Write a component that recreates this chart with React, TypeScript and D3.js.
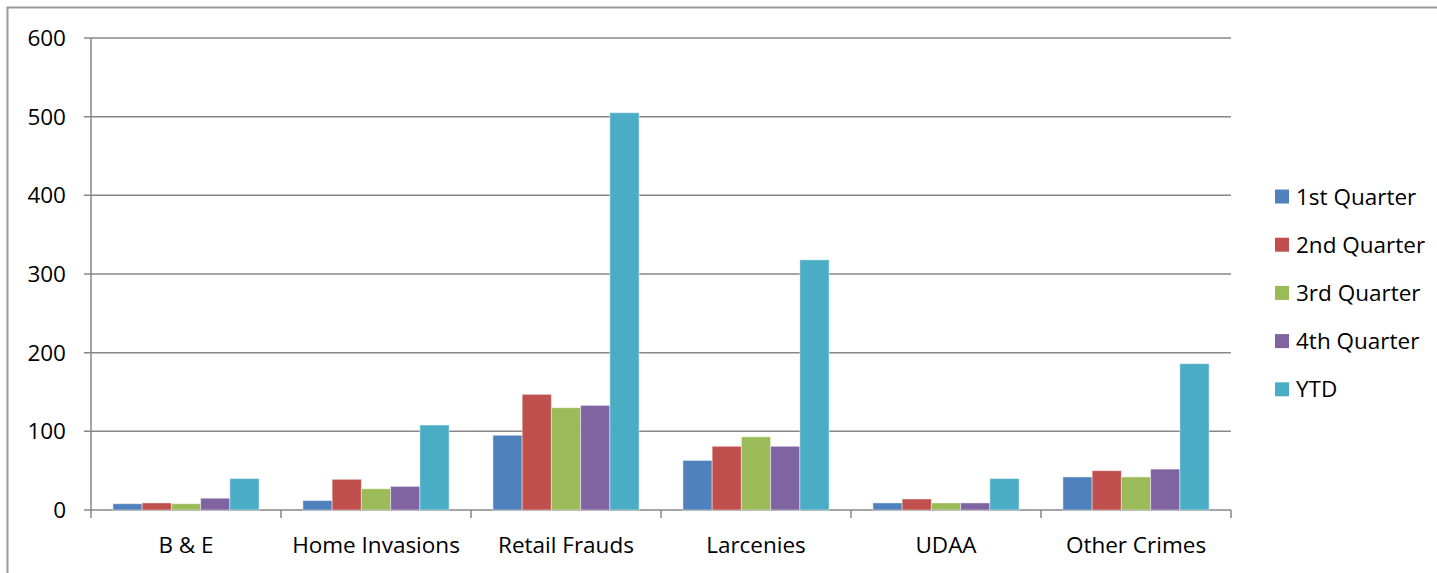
import React, { useEffect } from "react";
import * as d3 from "d3";

const categories = ["B & E", "Home Invasions", "Retail Frauds", "Larcenies", "UDAA", "Other Crimes"];
const seriesNames = ["1st Quarter", "2nd Quarter", "3rd Quarter", "4th Quarter", "YTD"];
const q1 = [8, 12, 95, 63, 9, 42];
const q2 = [9, 39, 147, 81, 14, 50];
const q3 = [8, 27, 130, 93, 9, 42];
const q4 = [15, 30, 133, 81, 9, 52];
const ytd = [40, 108, 505, 318, 40, 186];
const seriesColors = ["#4F81BD", "#C0504D", "#9BBB59", "#8064A2", "#4BACC6"];
const yTicks = [0, 100, 200, 300, 400, 500, 600];

const W = 1437;
const H = 573;
const FONT = "'Open Sans', 'Noto Sans', sans-serif";
const FS = 22.5;

export default function App() {
  useEffect(() => {
    document.body.style.margin = "0";
    document.body.style.overflow = "hidden";
  }, []);
  const series = [q1, q2, q3, q4, ytd];
  const left = 91, right = 1231, top = 38, bottom = 510;
  const x0 = d3.scaleBand<string>().domain(categories).range([left, right]).paddingInner(0).paddingOuter(0);
  const x1 = d3.scaleBand<string>().domain(seriesNames).range([0, x0.bandwidth()]).paddingOuter(0.75).paddingInner(0);
  const y = d3.scaleLinear().domain([0, 600]).range([bottom, top]);
  const gridColor = "#878787";

  return (
    <svg width={W} height={H} style={{ position: "absolute", left: 0, top: 0, display: "block" }} fontFamily={FONT}>
      <rect x={0} y={0} width={W} height={H} fill="#fff" />
      <rect x={7.5} y={7.5} width={W + 20} height={H + 20} fill="none" stroke="#9a9a9a" strokeWidth={2} />
      {yTicks.map((t) => (
        <g key={t}>
          <line x1={left - 7} x2={right} y1={y(t)} y2={y(t)} stroke={gridColor} strokeWidth={1.5} />
          <text x={66} y={y(t)} dy="0.36em" textAnchor="end" fontSize={FS} fill="#000">{t}</text>
        </g>
      ))}
      <line x1={left} x2={left} y1={top} y2={bottom} stroke={gridColor} strokeWidth={1.5} />
      {d3.range(categories.length + 1).map((i) => {
        const xx = left + i * x0.bandwidth();
        return <line key={i} x1={xx} x2={xx} y1={bottom} y2={bottom + 8} stroke={gridColor} strokeWidth={1.5} />;
      })}
      {categories.map((c, ci) => (
        <g key={c} transform={`translate(${x0(c)},0)`}>
          {series.map((s, si) => (
            <rect
              key={si}
              x={x1(seriesNames[si])}
              y={y(s[ci])}
              width={x1.bandwidth()}
              height={y(0) - y(s[ci])}
              fill={seriesColors[si]}
              stroke="rgba(255,255,255,0.45)"
              strokeWidth={1}
            />
          ))}
          <text x={x0.bandwidth() / 2} y={553} textAnchor="middle" fontSize={FS} fill="#000">{c}</text>
        </g>
      ))}
      {seriesNames.map((n, i) => {
        const cy = 196.5 + i * 48.2;
        return (
          <g key={n}>
            <rect x={1275} y={cy - 7} width={14} height={14} fill={seriesColors[i]} />
            <text x={1296} y={cy} dy="0.36em" fontSize={FS} fill="#000">{n}</text>
          </g>
        );
      })}
    </svg>
  );
}
